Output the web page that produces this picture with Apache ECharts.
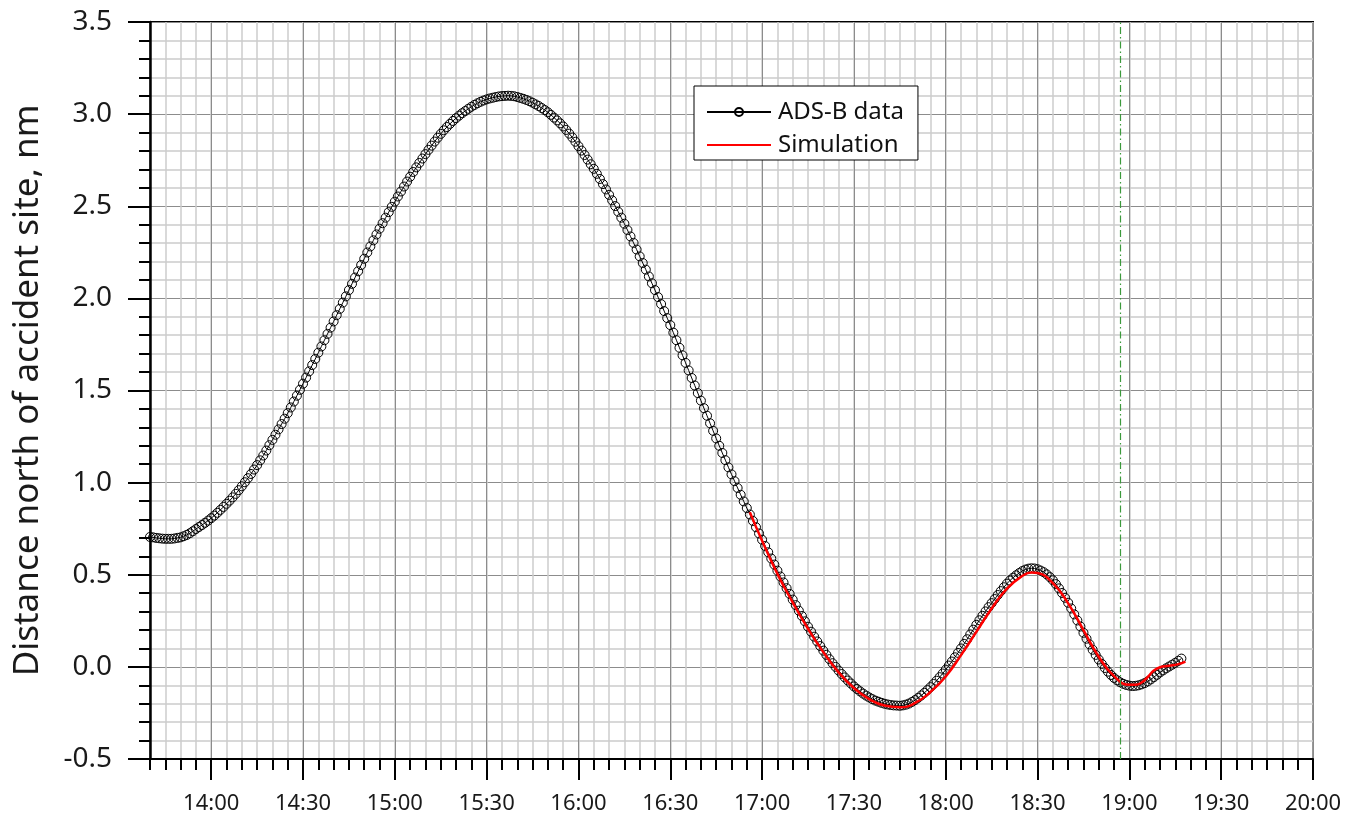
<!DOCTYPE html>
<html>
<head>
<meta charset="utf-8">
<script src="https://cdn.jsdelivr.net/npm/echarts@6/dist/echarts.min.js"></script>
<style>
  html, body { margin: 0; padding: 0; background: #ffffff; }
  #chart { width: 1359px; height: 822px; }
</style>
</head>
<body>
<div id="chart"></div>
<script>
// Time is in seconds, shown as mm:ss on the axis.
const adsbStart = 820;          // first ADS-B sample (13:40), one sample per second
const adsbValues = [
  0.705, 0.703, 0.700, 0.698, 0.696, 0.695, 0.695, 0.695, 0.697, 0.700, 0.703,
  0.709, 0.716, 0.725, 0.736, 0.748, 0.759, 0.770, 0.782, 0.794, 0.807,
  0.821, 0.836, 0.852, 0.868, 0.885, 0.902, 0.920, 0.939, 0.959, 0.980,
  1.002, 1.024, 1.047, 1.071, 1.095, 1.121, 1.147, 1.174, 1.203, 1.232,
  1.260, 1.289, 1.318, 1.347, 1.377, 1.408, 1.440, 1.472, 1.504, 1.537,
  1.570, 1.604, 1.638, 1.671, 1.705, 1.739, 1.773, 1.807, 1.841, 1.875,
  1.909, 1.943, 1.977, 2.011, 2.045, 2.079, 2.113, 2.147, 2.181, 2.215,
  2.249, 2.282, 2.315, 2.347, 2.378, 2.408, 2.438, 2.468, 2.497, 2.525,
  2.553, 2.580, 2.607, 2.634, 2.660, 2.686, 2.711, 2.735, 2.759, 2.783,
  2.806, 2.829, 2.851, 2.872, 2.893, 2.912, 2.930, 2.947, 2.963, 2.978,
  2.992, 3.005, 3.017, 3.029, 3.040, 3.050, 3.059, 3.067, 3.074, 3.080,
  3.085, 3.089, 3.093, 3.096, 3.098, 3.099, 3.100, 3.099, 3.097, 3.093,
  3.088, 3.083, 3.077, 3.070, 3.062, 3.053, 3.044, 3.033, 3.022, 3.010,
  2.996, 2.981, 2.966, 2.950, 2.933, 2.914, 2.894, 2.873, 2.850, 2.826,
  2.802, 2.778, 2.753, 2.728, 2.703, 2.676, 2.648, 2.620, 2.591, 2.562,
  2.532, 2.501, 2.470, 2.438, 2.405, 2.371, 2.336, 2.301, 2.265, 2.228,
  2.192, 2.156, 2.119, 2.082, 2.045, 2.007, 1.969, 1.931, 1.893, 1.855,
  1.814, 1.773, 1.732, 1.691, 1.650, 1.609, 1.568, 1.527, 1.486, 1.445,
  1.404, 1.363, 1.322, 1.281, 1.240, 1.200, 1.161, 1.122, 1.083, 1.045,
  1.008, 0.971, 0.934, 0.898, 0.862, 0.827, 0.792, 0.758, 0.724, 0.690,
  0.656, 0.622, 0.588, 0.555, 0.522, 0.490, 0.458, 0.427, 0.396, 0.365,
  0.335, 0.305, 0.276, 0.247, 0.218, 0.191, 0.164, 0.138, 0.113, 0.088,
  0.065, 0.042, 0.020, 0.000, -0.020, -0.039, -0.057, -0.074, -0.090, -0.106,
  -0.120, -0.133, -0.145, -0.156, -0.166, -0.175, -0.183, -0.189, -0.195, -0.200,
  -0.204, -0.207, -0.209, -0.210, -0.211, -0.209, -0.205, -0.199, -0.190, -0.180,
  -0.168, -0.155, -0.141, -0.126, -0.110, -0.093, -0.075, -0.056, -0.036, -0.015,
  0.007, 0.029, 0.052, 0.076, 0.100, 0.125, 0.150, 0.176, 0.202, 0.228,
  0.253, 0.277, 0.301, 0.324, 0.346, 0.368, 0.390, 0.411, 0.432, 0.452,
  0.469, 0.484, 0.497, 0.509, 0.520, 0.528, 0.533, 0.535, 0.534, 0.530,
  0.523, 0.514, 0.502, 0.487, 0.470, 0.449, 0.426, 0.401, 0.375, 0.348,
  0.317, 0.285, 0.252, 0.219, 0.185, 0.153, 0.122, 0.093, 0.065, 0.040,
  0.016, -0.006, -0.026, -0.044, -0.060, -0.073, -0.084, -0.092, -0.098, -0.102,
  -0.104, -0.103, -0.100, -0.095, -0.088, -0.079, -0.068, -0.056, -0.043, -0.030,
  -0.019, -0.008, 0.002, 0.012, 0.022, 0.033, 0.045
];

const simTimes = [
  1016, 1020, 1025, 1030, 1035, 1040, 1045, 1050, 1055, 1060, 1065, 1070,
  1075, 1080, 1085, 1090, 1095, 1100, 1105, 1108, 1110, 1115, 1120, 1125,
  1130, 1135, 1140, 1142, 1144, 1146, 1148, 1150, 1153, 1156, 1158.3
];
const simValues = [
  0.840, 0.684, 0.505, 0.350, 0.207, 0.080, -0.030, -0.115, -0.175, -0.210, -0.219, -0.196,
  -0.136, -0.052, 0.064, 0.190, 0.317, 0.425, 0.493, 0.512, 0.509, 0.455, 0.345, 0.200,
  0.055, -0.050, -0.097, -0.097, -0.085, -0.055, -0.020, -0.002, 0.006, 0.015, 0.029
];

const majorTickLabels = ['14:00', '14:30', '15:00', '15:30', '16:00', '16:30', '17:00',
  '17:30', '18:00', '18:30', '19:00', '19:30', '20:00'];
const eventTime = 1137;          // vertical marker just before 19:00

const xMin = 820, xMax = 1200, minorStep = 5;
const FONT = '"Noto Sans", "Open Sans", sans-serif';

function mmss(v) {
  const m = Math.floor(v / 60);
  const s = Math.round(v - m * 60);
  return m + ':' + (s < 10 ? '0' : '') + s;
}

const adsbData = adsbValues.map((v, i) => [adsbStart + i, v]);
const simData = simTimes.map((t, i) => [t, simValues[i]]);

// Category ticks every 5 s, used only to place the long 30 s ticks, labels and dark grid
const tickCats = [];
for (let t = xMin; t <= xMax; t += minorStep) tickCats.push(mmss(t));
const isMajor = (i, name) => majorTickLabels.indexOf(tickCats[i]) >= 0;

const chart = echarts.init(document.getElementById('chart'), null, { renderer: 'canvas' });

chart.setOption({
  animation: false,
  backgroundColor: '#ffffff',
  textStyle: { fontFamily: FONT },
  grid: {
    left: 150, right: 46, top: 22, bottom: 63,
    show: true, borderColor: '#000000', borderWidth: 2, backgroundColor: 'transparent'
  },
  legend: {
    orient: 'vertical',
    left: 694, top: 86,
    padding: [14, 14, 3, 12],
    itemGap: 9,
    itemWidth: 64, itemHeight: 10,
    backgroundColor: '#ffffff',
    borderColor: '#000000', borderWidth: 1,
    textStyle: { fontFamily: FONT, fontSize: 24, color: '#111111', padding: [0, 0, 0, 2] },
    data: [
      { name: 'ADS-B data' },
      { name: 'Simulation', itemStyle: { color: 'transparent', borderColor: 'transparent', borderWidth: 0 } }
    ]
  },
  xAxis: [
    {
      type: 'value', min: xMin, max: xMax, interval: minorStep,
      position: 'bottom',
      axisLine: { show: true, onZero: false, lineStyle: { color: '#000000', width: 2 } },
      axisTick: { show: true, length: 11, lineStyle: { color: '#000000', width: 2 } },
      axisLabel: { show: false },
      splitLine: { show: true, lineStyle: { color: '#cccccc', width: 1.5 } }
    },
    {
      type: 'category', data: tickCats, boundaryGap: false,
      position: 'bottom',
      axisLine: { show: false, onZero: false },
      axisTick: { show: true, interval: isMajor, length: 21, lineStyle: { color: '#000000', width: 2 } },
      axisLabel: {
        show: true, interval: isMajor, margin: 34,
        fontFamily: FONT, fontSize: 22, color: '#1a1a1a'
      },
      splitLine: { show: true, interval: isMajor, lineStyle: { color: '#8c8c8c', width: 1 } }
    }
  ],
  yAxis: {
    type: 'value', min: -0.5, max: 3.5, interval: 0.5,
    name: 'Distance north of accident site, nm',
    nameLocation: 'middle', nameGap: 104, nameRotate: 90,
    nameTextStyle: { fontFamily: FONT, fontSize: 35, color: '#1a1a1a' },
    axisLine: { show: true, lineStyle: { color: '#000000', width: 2.5 } },
    axisTick: { show: true, length: 22, lineStyle: { color: '#000000', width: 2 } },
    minorTick: { show: true, splitNumber: 5, length: 11, lineStyle: { color: '#000000', width: 2 } },
    axisLabel: {
      margin: 38, fontFamily: FONT, fontSize: 28, color: '#1a1a1a',
      formatter: v => v.toFixed(1)
    },
    splitLine: { show: true, lineStyle: { color: '#8c8c8c', width: 1 } },
    minorSplitLine: { show: true, lineStyle: { color: '#cccccc', width: 1.5 } }
  },
  series: [
    {
      name: 'ADS-B data', type: 'line', xAxisIndex: 0,
      data: adsbData,
      symbol: 'circle', symbolSize: 9, showSymbol: true, showAllSymbol: true,
      lineStyle: { color: '#000000', width: 1 },
      itemStyle: { color: 'transparent', borderColor: '#000000', borderWidth: 1 },
      z: 3,
      markLine: {
        silent: true, symbol: 'none', label: { show: false },
        lineStyle: { color: '#3c9a3c', width: 1.2, type: [7, 3, 1.5, 3] },
        data: [{ xAxis: eventTime }]
      }
    },
    {
      name: 'Simulation', type: 'line', xAxisIndex: 0,
      data: simData, smooth: true,
      symbol: 'none',
      lineStyle: { color: '#ff0000', width: 2.5 },
      itemStyle: { color: '#ff0000' },
      z: 4
    }
  ]
});
</script>
</body>
</html>
